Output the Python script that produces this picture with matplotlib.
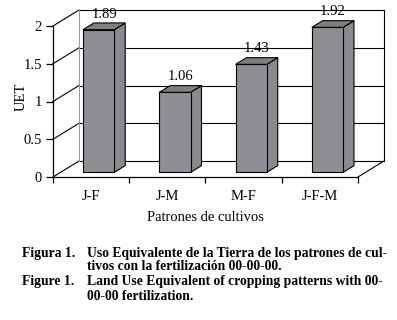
import matplotlib
matplotlib.use("Agg")
import matplotlib.pyplot as plt
from matplotlib.patches import Polygon

categories = ["J-F", "J-M", "M-F", "J-F-M"]
values = [1.89, 1.06, 1.43, 1.92]
value_labels = ["1.89", "1.06", "1.43", "1.92"]
yticks = [0, 0.5, 1, 1.5, 2]
ytick_labels = ["0", "0.5", "1", "1.5", "2"]

plt.rcParams['font.family'] = ['Liberation Serif', 'DejaVu Serif']

W, H = 397, 320
fig = plt.figure(figsize=(W / 100, H / 100), dpi=100)
ax = fig.add_axes([53 / W, 1 - 177 / H, 305 / W, 151 / H])
n = len(categories)
ax.set_xlim(0, n)
ax.set_ylim(0, 2)

# depth offset (data units) of back wall
DX, DY = 26 / (305 / n), 16 / (151 / 2)

def P(x, y, d):
    return (x + d * DX, y + d * DY)

lk = dict(color='black', lw=0.8, clip_on=False, zorder=1)
# back wall gridlines and left-wall diagonals
for v in yticks:
    a, b = P(0, v, 1), P(n, v, 1)
    ax.plot([a[0], b[0]], [a[1], b[1]], **lk)
    c = P(0, v, 0)
    ax.plot([c[0], a[0]], [c[1], a[1]], **lk)
# back wall left edge (gray) and right edge
a, b = P(0, 0, 1), P(0, 2, 1)
ax.plot([a[0], b[0]], [a[1], b[1]], color='#9a9a9a', lw=0.8, clip_on=False, zorder=1)
a, b = P(n, 0, 1), P(n, 2, 1)
ax.plot([a[0], b[0]], [a[1], b[1]], **lk)
# floor right edge
a, b = P(n, 0, 0), P(n, 0, 1)
ax.plot([a[0], b[0]], [a[1], b[1]], **lk)

# bars
bw = 0.41
d0, d1 = 0.29, 0.71
for i, v in enumerate(values):
    x0 = i + 0.5 - bw / 2
    x1 = i + 0.5 + bw / 2
    front = [P(x0, 0, d0), P(x1, 0, d0), P(x1, v, d0), P(x0, v, d0)]
    side = [P(x1, 0, d0), P(x1, 0, d1), P(x1, v, d1), P(x1, v, d0)]
    top = [P(x0, v, d0), P(x1, v, d0), P(x1, v, d1), P(x0, v, d1)]
    for poly, col in ((side, '#8a8a8e'), (top, '#7f7f83'), (front, '#8f8f93')):
        ax.add_patch(Polygon(poly, closed=True, facecolor=col, edgecolor='black',
                             lw=0.8, clip_on=False, zorder=3))
    lx, ly = P(i + 0.5, v, 0.5)
    ax.annotate(value_labels[i], (lx, ly), xytext=(0, 4), textcoords='offset points',
                ha='center', va='bottom', fontsize=10.5, annotation_clip=False, zorder=4)

for s in ['top', 'right']:
    ax.spines[s].set_visible(False)
for s in ['left', 'bottom']:
    ax.spines[s].set_linewidth(0.9)
    ax.spines[s].set_zorder(5)
ax.patch.set_visible(False)

ax.set_yticks(yticks)
ax.set_yticklabels(ytick_labels)
ax.tick_params(axis='y', direction='out', length=5, width=0.9, labelsize=10.5, pad=3)
ax.set_xticks([i + 0.5 for i in range(n)])
ax.set_xticklabels(categories)
ax.set_xticks(list(range(n + 1)), minor=True)
ax.tick_params(axis='x', which='major', length=0, labelsize=10.5, pad=9)
ax.tick_params(axis='x', which='minor', direction='out', length=4, width=0.9)

ax.set_xlabel("Patrones de cultivos", fontsize=10.5, labelpad=6)
ax.set_ylabel("UET", fontsize=10.5)
ax.yaxis.set_label_coords(-25 / 305, (177 - 97) / 151)

cap = dict(fontsize=9.8, fontweight='bold', va='center', ha='left')
lines = [(253, "Figura 1.", "Uso Equivalente de la Tierra de los patrones de cul-"),
         (267, None, "tivos con la fertilización 00-00-00."),
         (282, "Figure 1.", "Land Use Equivalent of cropping patterns with 00-"),
         (296, None, "00-00 fertilization.")]
for y, lab, txt in lines:
    if lab:
        fig.text(22 / W, 1 - y / H, lab, **cap)
    fig.text(87 / W, 1 - y / H, txt, **cap)

fig.savefig("out.png", dpi=100)
